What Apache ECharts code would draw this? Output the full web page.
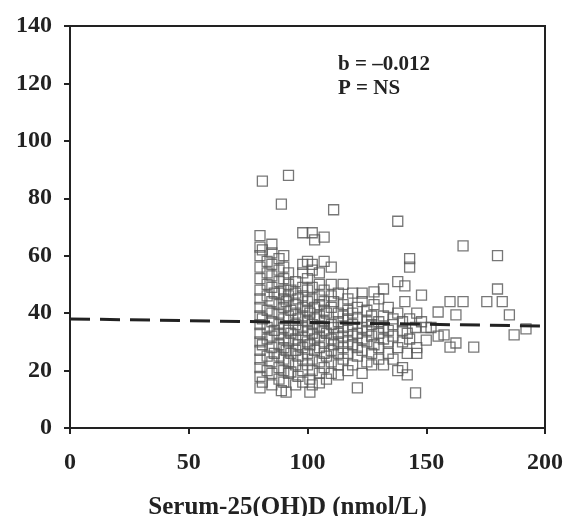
<!DOCTYPE html>
<html><head><meta charset="utf-8">
<script src="https://cdn.jsdelivr.net/npm/echarts@6/dist/echarts.min.js"></script>
<style>html,body{margin:0;padding:0;background:#fff}#c{width:572px;height:516px}</style>
</head><body><div id="c"></div>
<script>
// x ticks / y ticks
const xTicks = [0, 50, 100, 150, 200];
const yTicks = [0, 20, 40, 60, 80, 100, 120, 140];
// Regression line (b = -0.012)
const lineX = [0, 200];
const lineY = [38, 35.5];
// Scatter points grouped by x column: [x, [y values]]
const columns = [
  [80, [14, 18, 21, 24, 27, 30, 33, 36, 39, 42, 45, 48, 52, 56, 60, 63, 67]],
  [81, [86, 62, 16, 29, 38]],
  [83, [20, 25, 31, 35, 41, 46, 50, 54, 58]],
  [85, [15, 19, 23, 28, 32, 37, 40, 44, 49, 53, 57, 61, 64]],
  [86, [26, 34, 47]],
  [88, [17, 21, 25, 29, 33, 36, 40, 43, 47, 51, 55, 59]],
  [89, [78, 13]],
  [90, [16, 20, 24, 28, 31, 35, 38, 42, 45, 48, 52, 56, 60]],
  [91, [12.5, 27, 44]],
  [92, [88, 19, 23, 30, 34, 39, 46, 50, 54]],
  [93, [19.5, 26, 33, 41, 48]],
  [95, [15, 22, 27, 31, 36, 40, 43, 47, 51]],
  [96, [18, 25, 29, 34, 38, 45]],
  [98, [68, 16, 20, 24, 28, 32, 35, 39, 42, 46, 49, 57, 54]],
  [100, [22, 26, 30, 34, 37, 41, 44, 48, 52, 58]],
  [101, [12.5, 17, 29, 40]],
  [102, [68, 15, 20, 24, 33, 36, 45, 49, 55, 57]],
  [103, [65.5, 27, 31, 38, 42]],
  [105, [15.7, 19, 23, 28, 32, 35, 39, 43, 46, 50, 54]],
  [107, [66.5, 21, 26, 30, 34, 37, 41, 44, 48, 58]],
  [108, [17, 25, 33, 40]],
  [110, [19, 23, 27, 31, 36, 42, 46, 50, 56]],
  [111, [76, 29, 35, 44]],
  [113, [18.5, 22, 26, 30, 33, 37, 40, 47]],
  [115, [24, 28, 32, 35, 39, 43, 50]],
  [117, [20, 26, 30, 34, 38, 41, 45]],
  [119, [22, 29, 32, 36, 40, 47]],
  [121, [14, 25, 28, 33, 38, 42]],
  [123, [19, 27, 31, 35, 44, 47]],
  [125, [23, 30, 34, 37, 41]],
  [127, [22, 26, 32, 36, 39]],
  [128, [47.4, 43, 29]],
  [130, [24, 28, 33, 37, 45]],
  [132, [22, 31, 35, 39, 48.4]],
  [134, [26, 30, 34, 42]],
  [136, [24, 32, 36, 38]],
  [138, [51, 40, 72, 28, 20]],
  [140, [21, 34, 37, 30]],
  [141, [49.5, 44]],
  [142, [18.5, 33, 26]],
  [143, [59, 56, 38, 31]],
  [145.5, [12.2, 35]],
  [146, [28, 26, 40]],
  [148, [46.3, 37]],
  [150, [30.6, 35]],
  [152, [35]],
  [155, [40.4, 32]],
  [157.5, [32.4]],
  [160, [44, 28.2]],
  [162.5, [39.4, 29.6]],
  [165.5, [63.4, 44]],
  [170, [28.2]],
  [175.5, [44]],
  [180, [60, 48.4]],
  [182, [44]],
  [185, [39.4]],
  [187, [32.4]],
  [192, [34.5]]
];
const points = [];
columns.forEach(([x, ys]) => ys.forEach(y => points.push([x, y])));
const lineData = lineX.map((x, i) => [x, lineY[i]]);

const FONT = '"Liberation Serif","Times New Roman",serif';
const chart = echarts.init(document.getElementById('c'), null, {renderer: 'canvas'});
chart.setOption({
  animation: false,
  backgroundColor: '#fff',
  grid: {left: 70, right: 27, top: 26, bottom: 88, outerBoundsMode: 'none', containLabel: false,
    show: true, borderColor: '#222', borderWidth: 2, backgroundColor: 'transparent'},
  xAxis: {
    type: 'value', min: 0, max: 200, interval: 50,
    name: 'Serum-25(OH)D (nmol/L)', nameLocation: 'middle', nameGap: 67,
    nameTextStyle: {fontFamily: FONT, fontWeight: 'bold', fontSize: 25, color: '#222', padding: [0, 40, 0, 0]},
    axisLine: {show: true, lineStyle: {color: '#222', width: 2}},
    axisTick: {show: true, length: 6, lineStyle: {color: '#222', width: 2}},
    axisLabel: {fontFamily: FONT, fontWeight: 'bold', fontSize: 24, color: '#222', margin: 23,
      formatter: v => xTicks.includes(v) ? String(v) : ''},
    splitLine: {show: false}
  },
  yAxis: {
    type: 'value', min: 0, max: 140, interval: 20,
    axisLine: {show: true, lineStyle: {color: '#222', width: 2}},
    axisTick: {show: true, length: 6, lineStyle: {color: '#222', width: 2}},
    axisLabel: {fontFamily: FONT, fontWeight: 'bold', fontSize: 24, color: '#222', margin: 18,
      formatter: v => yTicks.includes(v) ? String(v) : ''},
    splitLine: {show: false}
  },
  series: [
    {
      type: 'scatter', data: points, symbol: 'rect', symbolSize: 10,
      itemStyle: {color: 'rgba(255,255,255,0)', borderColor: '#555', borderWidth: 1.3},
      z: 2
    },
    {
      type: 'line', data: lineData, symbol: 'none',
      lineStyle: {color: '#222', width: 3, type: [20, 10]},
      z: 3
    }
  ],
  graphic: [
    {type: 'text', left: 338, top: 54, style: {text: 'b = \u20130.012', font: 'bold 21px ' + FONT, fill: '#222'}},
    {type: 'text', left: 338, top: 78, style: {text: 'P = NS', font: 'bold 21px ' + FONT, fill: '#222'}}
  ]
});
</script></body></html>
